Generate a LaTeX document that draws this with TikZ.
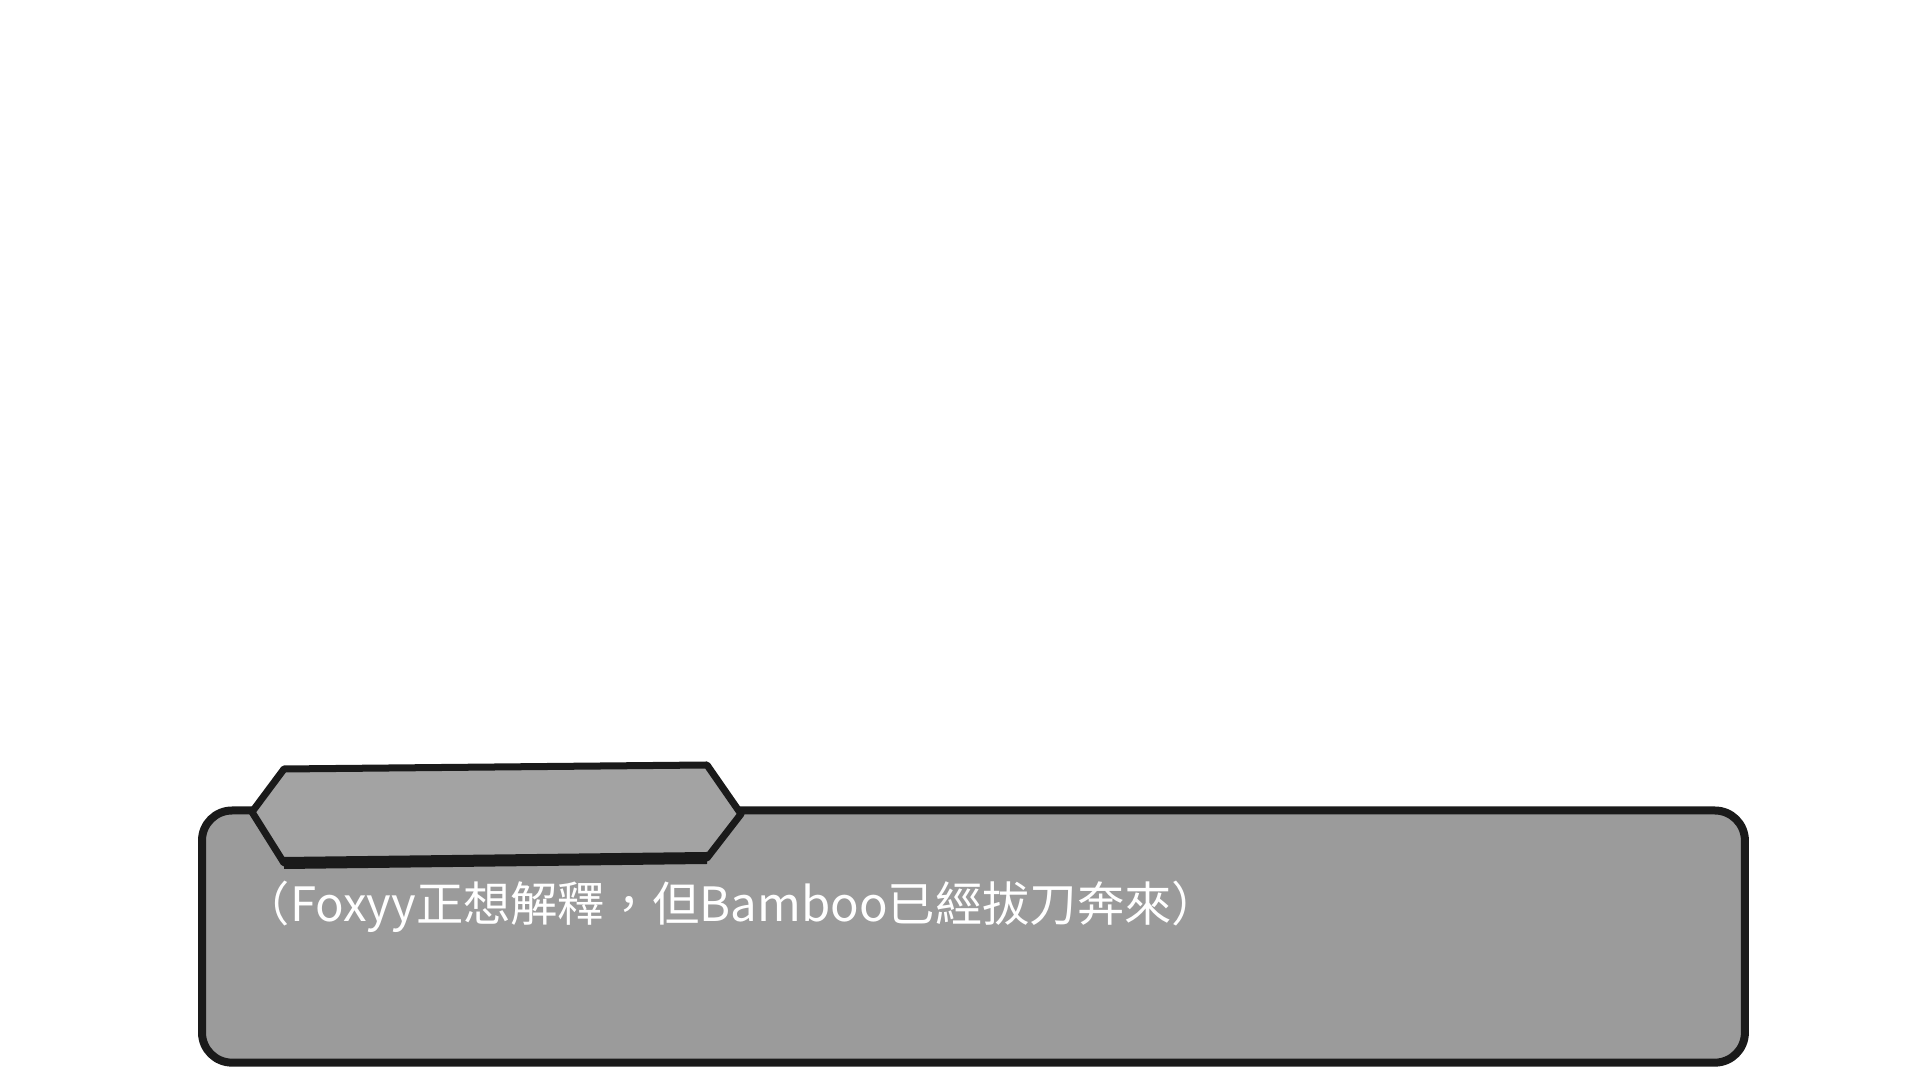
\documentclass[tikz,border=0pt]{standalone}
\usepackage{fontspec}
\usepackage{xcolor}
\newfontfamily\cjk{Noto Sans CJK TC}
\usetikzlibrary{positioning}
\definecolor{edgegray}{HTML}{1A1A1A}
\definecolor{panelgray}{HTML}{9B9B9B}
\definecolor{taggray}{HTML}{A3A3A3}

\begin{document}
\begin{tikzpicture}[
    x=0.01cm, y=-0.01cm,
    panel/.style={draw=edgegray, fill=panelgray, line width=0.08cm, rounded corners=0.3cm, minimum width=15.42cm, minimum height=2.52cm, anchor=north west, inner sep=0pt},
    nametag/.style={draw=edgegray, fill=taggray, line width=0.07cm, line join=round},
    linebox/.style={text=white, font=\cjk\fontsize{13.45}{16}\selectfont, anchor=west, inner sep=0pt}
]
\useasboundingbox (0,0) rectangle (1920,1080);
\node[panel] (panel) at (198,806.5) {};
\coordinate (tagL) at (252,812);
\coordinate (tagTL) at (284,769);
\coordinate (tagTR) at (707,765);
\coordinate (tagR) at (741,814);
\coordinate (tagBR) at (707,858);
\coordinate (tagBL) at (284,863);
\draw[nametag] (tagL) -- (tagTL) -- (tagTR) -- (tagR) -- (tagBR) -- (tagBL) -- cycle;
\draw[edgegray, line width=0.12cm] (tagBL) -- (tagBR);
\node[linebox] (line) at (242,907) {（Foxyy正想解釋，但Bamboo已經拔刀奔來）};
\end{tikzpicture}
\end{document}
